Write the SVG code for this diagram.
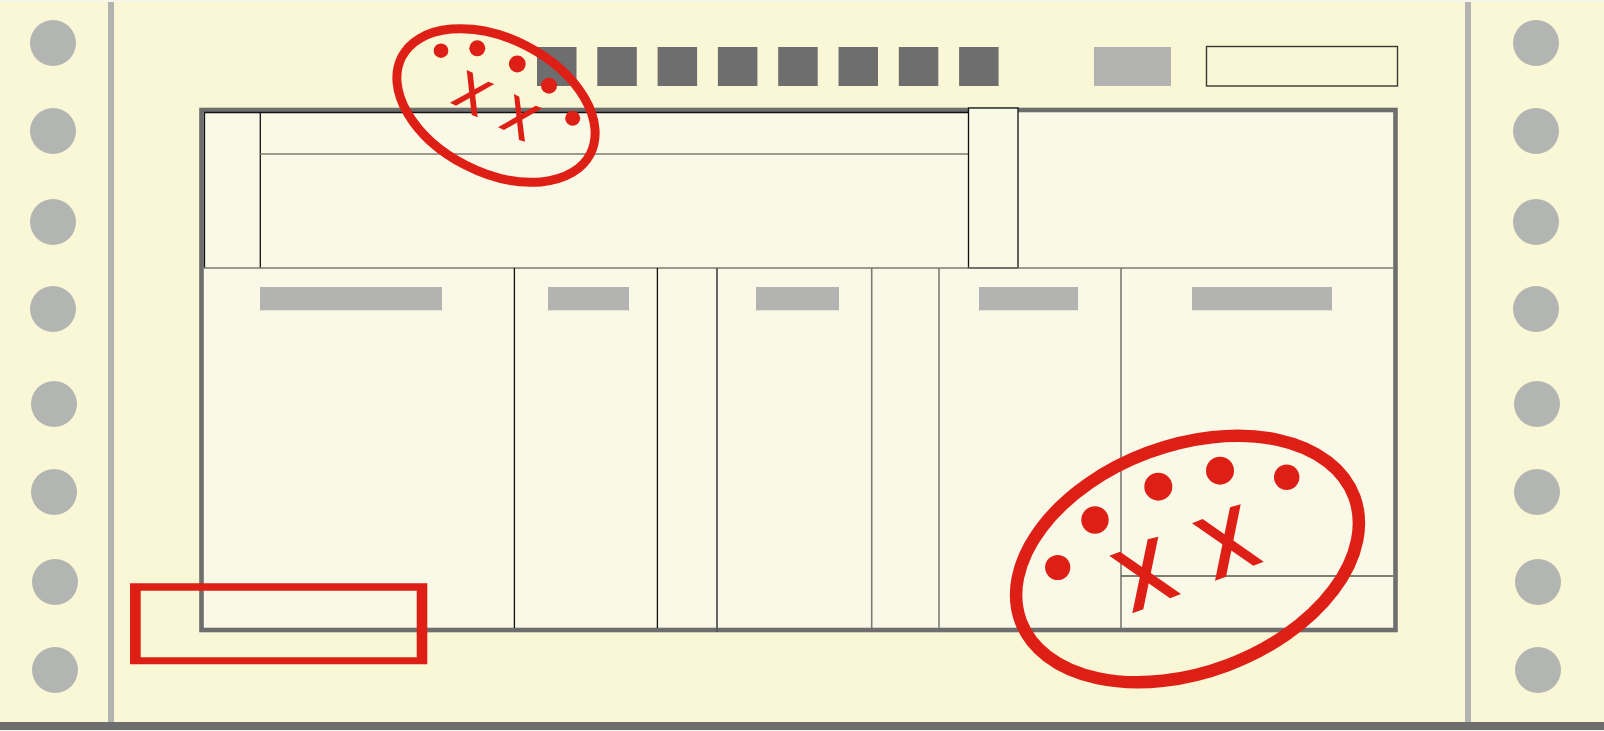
<svg xmlns="http://www.w3.org/2000/svg" width="1604" height="731" viewBox="0 0 1604 731">
<style>
.hole{fill:#b3b5b3}
.dk{fill:#6e6e6e}
.lg{fill:#b3b4b2}
.bl{stroke:#111;stroke-width:1.3;fill:none}
.gl{stroke:#7a7a72;stroke-width:1.6;fill:none}
.red{fill:#de1f16}
.redS{fill:none;stroke:#de1f16}
</style>
<rect x="0" y="0" width="1604" height="731" fill="#f7f6ec"/>
<rect x="0" y="2" width="1604" height="720" fill="#faf7d7"/>
<rect x="0" y="722" width="1604" height="8" class="dk"/>
<g id="margins">
<rect x="108" y="2" width="6" height="720" class="lg"/>
<rect x="1465" y="2" width="6" height="720" class="lg"/>
<circle class="hole" cx="53" cy="43" r="23"/>
<circle class="hole" cx="53" cy="131" r="23"/>
<circle class="hole" cx="53" cy="222" r="23"/>
<circle class="hole" cx="53" cy="309" r="23"/>
<circle class="hole" cx="54" cy="404" r="23"/>
<circle class="hole" cx="54" cy="492" r="23"/>
<circle class="hole" cx="55" cy="582" r="23"/>
<circle class="hole" cx="55" cy="670" r="23"/>
<circle class="hole" cx="1536" cy="43" r="23"/>
<circle class="hole" cx="1536" cy="131" r="23"/>
<circle class="hole" cx="1536" cy="222" r="23"/>
<circle class="hole" cx="1536" cy="309" r="23"/>
<circle class="hole" cx="1537" cy="404" r="23"/>
<circle class="hole" cx="1537" cy="492" r="23"/>
<circle class="hole" cx="1538" cy="582" r="23"/>
<circle class="hole" cx="1538" cy="670" r="23"/>
</g>
<g id="top-blocks">
<rect class="dk" x="537" y="47" width="39.5" height="39"/>
<rect class="dk" x="597.3" y="47" width="39.5" height="39"/>
<rect class="dk" x="657.6" y="47" width="39.5" height="39"/>
<rect class="dk" x="717.9" y="47" width="39.5" height="39"/>
<rect class="dk" x="778.2" y="47" width="39.5" height="39"/>
<rect class="dk" x="838.5" y="47" width="39.5" height="39"/>
<rect class="dk" x="898.8" y="47" width="39.5" height="39"/>
<rect class="dk" x="959.1" y="47" width="39.5" height="39"/>
<rect class="lg" x="1094" y="47" width="77" height="39"/>
<rect x="1206.5" y="46.5" width="191" height="39.5" fill="#faf7d7" stroke="#3a3a34" stroke-width="1.4"/>
</g>
<g id="table">
<rect x="201.5" y="110" width="1194" height="520" fill="#faf9e8" stroke="#6e6e6e" stroke-width="4.6"/>
<path class="bl" d="M204.5 268 V112.5 H968"/>
<line class="bl" x1="260.3" y1="112" x2="260.3" y2="268"/>
<line class="gl" x1="260.3" y1="154" x2="968" y2="154"/>
<rect x="968.5" y="108" width="49.5" height="160" fill="#faf9e8" stroke="#111" stroke-width="1.3"/>
<line class="gl" x1="204" y1="268" x2="1393" y2="268"/>
<line class="bl" x1="514.4" y1="268" x2="514.4" y2="628"/>
<line class="bl" x1="657.4" y1="268" x2="657.4" y2="628"/>
<line x1="717" y1="268" x2="717" y2="632" stroke="#555" stroke-width="1.8"/>
<line class="gl" x1="871.7" y1="268" x2="871.7" y2="628"/>
<line class="gl" x1="939" y1="268" x2="939" y2="628"/>
<line class="gl" x1="1121" y1="268" x2="1121" y2="628"/>
<line x1="1121" y1="576" x2="1393" y2="576" stroke="#55554d" stroke-width="1.6"/>
<rect class="lg" x="260" y="287" width="182" height="23.3"/>
<rect class="lg" x="548" y="287" width="81" height="23.3"/>
<rect class="lg" x="756" y="287" width="83" height="23.3"/>
<rect class="lg" x="979" y="287" width="99" height="23.3"/>
<rect class="lg" x="1192" y="287" width="140" height="23.3"/>
</g>
<g id="mark-top">
<ellipse class="redS" cx="496" cy="105.5" rx="106" ry="67" transform="rotate(27.2 496 105.5)" stroke-width="9"/>
<circle class="red" cx="441" cy="50.7" r="7.3"/>
<circle class="red" cx="477.3" cy="48.3" r="8"/>
<circle class="red" cx="517.3" cy="64" r="8.4"/>
<circle class="red" cx="549" cy="85.7" r="8"/>
<circle class="red" cx="572.7" cy="118.3" r="7.5"/>
<polygon class="red" points="466.7,70 472.7,72.7 477.7,117.3 471.7,115"/>
<polygon class="red" points="450,102.7 488.3,81.7 494.3,84 456,105.7"/>
<polygon class="red" points="514,94 519.3,96.7 525,141.7 519,140"/>
<polygon class="red" points="498,127.3 535.7,105.7 542.3,108.3 504,130"/>
</g>
<g id="mark-bottom">
<ellipse class="redS" cx="1187.5" cy="559" rx="178" ry="113.5" transform="rotate(-20.5 1187.5 559)" stroke-width="12.5"/>
<circle class="red" cx="1057.7" cy="567.5" r="12.6"/>
<circle class="red" cx="1095" cy="520" r="13.7"/>
<circle class="red" cx="1158.3" cy="486.7" r="14"/>
<circle class="red" cx="1220" cy="470.7" r="14"/>
<circle class="red" cx="1286.7" cy="477.3" r="12.7"/>
<polygon class="red" points="1147.7,539.3 1158.3,536.7 1143.3,609.3 1132.3,613.3"/>
<polygon class="red" points="1109.3,555.7 1120,551.7 1181,594 1170,598.3"/>
<polygon class="red" points="1230,507.3 1240.7,504.3 1226,576.7 1215,580.7"/>
<polygon class="red" points="1192,523.3 1202.7,519 1263.7,561.7 1253.3,565.7"/>
</g>
<g id="mark-box">
<path class="red" fill-rule="evenodd" d="M130 583.3 H427.3 V664.3 H130 Z M140.7 590.7 V657.3 H416.7 V590.7 Z"/>
</g>
</svg>
